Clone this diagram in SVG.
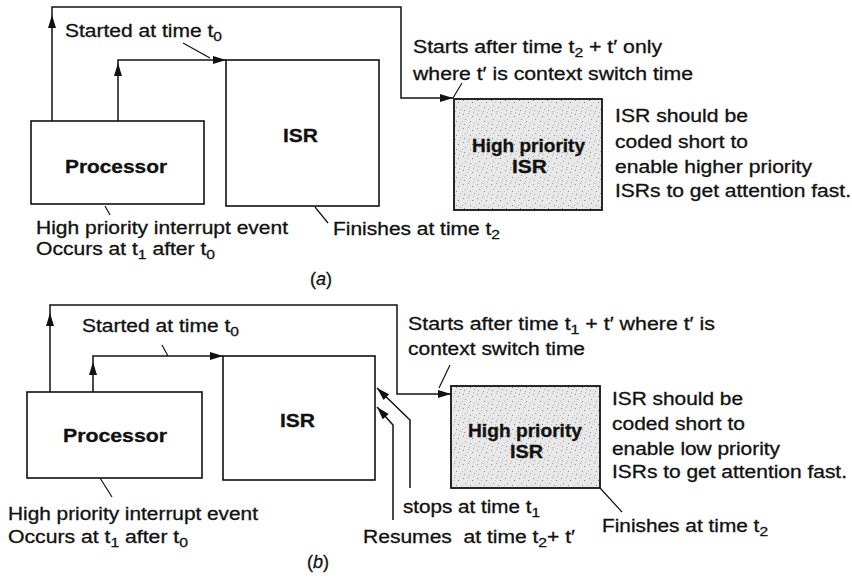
<svg xmlns="http://www.w3.org/2000/svg" xmlns:xlink="http://www.w3.org/1999/xlink" width="852" height="580" viewBox="0 0 852 580">
  <style>
    .box { fill: #ffffff; stroke: #111; stroke-width: 1.6; }
    .hp { fill: url(#stipple); stroke: #111; stroke-width: 1.8; }
    .wire { fill: none; stroke: #111; stroke-width: 1.5; }
    .lead { fill: none; stroke: #111; stroke-width: 1.2; }
    .ah { fill: #111; }
    text { font-family: "Liberation Sans", Arial, sans-serif; font-size: 17.5px; fill: #111; stroke: #111; stroke-width: 0.3; }
    .b { font-weight: bold; }
    .sub { font-size: 13px; }
    .it { font-style: italic; }
    .pre { white-space: pre; }
  </style>
  <defs>
    <!-- arrowhead pointing right, tip at origin -->
    <path id="ah" d="M0,0 L-13,-4 L-13,4 Z"/>
    <!-- grainy grey fill for the high priority ISR boxes -->
    <pattern id="stipple" width="14" height="14" patternUnits="userSpaceOnUse">
      <rect width="14" height="14" fill="#e8e8e8"/>
      <rect x="1" y="2" width="1" height="1" fill="#8a8a8a"/>
      <rect x="6" y="1" width="1" height="1" fill="#a0a0a0"/>
      <rect x="10" y="4" width="1" height="1" fill="#7a7a7a"/>
      <rect x="3" y="7" width="1" height="1" fill="#999"/>
      <rect x="8" y="9" width="1" height="1" fill="#888"/>
      <rect x="12" y="11" width="1" height="1" fill="#aaa"/>
      <rect x="2" y="12" width="1" height="1" fill="#909090"/>
      <rect x="5" y="4" width="1" height="1" fill="#c0c0c0"/>
      <rect x="11" y="0" width="1" height="1" fill="#b0b0b0"/>
      <rect x="7" y="13" width="1" height="1" fill="#a8a8a8"/>
      <rect x="0" y="9" width="1" height="1" fill="#bbb"/>
    </pattern>
  </defs>

  <!-- ===== (a) ===== -->
  <g id="a-processor">
    <rect class="box" x="31" y="121" width="173" height="83"/>
    <text class="b" x="65" y="173" textLength="102" lengthAdjust="spacingAndGlyphs">Processor</text>
  </g>
  <g id="a-isr">
    <rect class="box" x="226" y="60" width="153" height="146"/>
    <text class="b" x="283" y="142" textLength="35" lengthAdjust="spacingAndGlyphs">ISR</text>
  </g>
  <g id="a-hp-isr">
    <rect class="hp" x="454" y="99" width="148" height="111"/>
    <text class="b" x="472" y="152" textLength="113" lengthAdjust="spacingAndGlyphs">High priority</text>
    <text class="b" x="512" y="173" textLength="35" lengthAdjust="spacingAndGlyphs">ISR</text>
  </g>

  <g id="a-connectors">
    <path class="wire" d="M52,121 V7 H401 V98 H453"/>
    <path class="wire" d="M118,121 V60 H226"/>
    <use xlink:href="#ah" class="ah" transform="translate(52,15) rotate(-90)"/>
    <use xlink:href="#ah" class="ah" transform="translate(453,98)"/>
    <use xlink:href="#ah" class="ah" transform="translate(118,63) rotate(-90)"/>
    <use xlink:href="#ah" class="ah" transform="translate(226,60)"/>
    <path class="lead" d="M183,43 L210,58"/>
    <path class="lead" d="M105,206 L110,215"/>
    <path class="lead" d="M315,207 L328,223"/>
    <path class="lead" d="M462,83 L453,98"/>
  </g>

  <g id="a-labels">
    <text x="65" y="37" textLength="157" lengthAdjust="spacingAndGlyphs">Started at time t<tspan class="sub" dy="4">0</tspan></text>
    <text x="36" y="234" textLength="252" lengthAdjust="spacingAndGlyphs">High priority interrupt event</text>
    <text x="36" y="255" textLength="179" lengthAdjust="spacingAndGlyphs">Occurs at t<tspan class="sub" dy="4">1</tspan><tspan dy="-4"> after t</tspan><tspan class="sub" dy="4">0</tspan></text>
    <text x="333" y="235" textLength="167" lengthAdjust="spacingAndGlyphs">Finishes at time t<tspan class="sub" dy="4">2</tspan></text>
    <text x="413" y="53" textLength="249" lengthAdjust="spacingAndGlyphs">Starts after time t<tspan class="sub" dy="4">2</tspan><tspan dy="-4"> + t′ only</tspan></text>
    <text x="413" y="80" textLength="280" lengthAdjust="spacingAndGlyphs">where t′ is context switch time</text>
    <text x="615" y="122" textLength="133" lengthAdjust="spacingAndGlyphs">ISR should be</text>
    <text x="615" y="148" textLength="133" lengthAdjust="spacingAndGlyphs">coded short to</text>
    <text x="615" y="173" textLength="197" lengthAdjust="spacingAndGlyphs">enable higher priority</text>
    <text x="615" y="197" textLength="236" lengthAdjust="spacingAndGlyphs">ISRs to get attention fast.</text>
    <text x="310" y="285" style="font-size:18px">(<tspan class="it">a</tspan>)</text>
  </g>

  <!-- ===== (b) ===== -->
  <g id="b-processor">
    <rect class="box" x="27" y="392" width="175" height="86"/>
    <text class="b" x="63" y="442" textLength="104" lengthAdjust="spacingAndGlyphs">Processor</text>
  </g>
  <g id="b-isr">
    <rect class="box" x="223" y="356" width="152" height="124"/>
    <text class="b" x="280" y="427" textLength="35" lengthAdjust="spacingAndGlyphs">ISR</text>
  </g>
  <g id="b-hp-isr">
    <rect class="hp" x="451" y="386" width="149" height="102"/>
    <text class="b" x="468" y="437" textLength="114" lengthAdjust="spacingAndGlyphs">High priority</text>
    <text class="b" x="510" y="458" textLength="33" lengthAdjust="spacingAndGlyphs">ISR</text>
  </g>

  <g id="b-connectors">
    <path class="wire" d="M50,392 V305 H397 V394 H451"/>
    <path class="wire" d="M93,392 V356 H223"/>
    <path class="wire" d="M410,488 V420 L377,388"/>
    <path class="wire" d="M393,520 V425 L377,407"/>
    <use xlink:href="#ah" class="ah" transform="translate(50,313) rotate(-90)"/>
    <use xlink:href="#ah" class="ah" transform="translate(451,394)"/>
    <use xlink:href="#ah" class="ah" transform="translate(93,362) rotate(-90)"/>
    <use xlink:href="#ah" class="ah" transform="translate(223,356)"/>
    <use xlink:href="#ah" class="ah" transform="translate(377,388) rotate(224)"/>
    <use xlink:href="#ah" class="ah" transform="translate(377,407) rotate(228)"/>
    <path class="lead" d="M162,345 L168,356"/>
    <path class="lead" d="M100,478 L112,497"/>
    <path class="lead" d="M450,365 L439,388"/>
    <path class="lead" d="M600,488 L622,512"/>
  </g>

  <g id="b-labels">
    <text x="82" y="332" textLength="157" lengthAdjust="spacingAndGlyphs">Started at time t<tspan class="sub" dy="4">0</tspan></text>
    <text x="8" y="520" textLength="250" lengthAdjust="spacingAndGlyphs">High priority interrupt event</text>
    <text x="8" y="543" textLength="180" lengthAdjust="spacingAndGlyphs">Occurs at t<tspan class="sub" dy="4">1</tspan><tspan dy="-4"> after t</tspan><tspan class="sub" dy="4">0</tspan></text>
    <text x="408" y="330" textLength="307" lengthAdjust="spacingAndGlyphs">Starts after time t<tspan class="sub" dy="4">1</tspan><tspan dy="-4"> + t′ where t′ is</tspan></text>
    <text x="408" y="355" textLength="177" lengthAdjust="spacingAndGlyphs">context switch time</text>
    <text x="612" y="405" textLength="131" lengthAdjust="spacingAndGlyphs">ISR should be</text>
    <text x="612" y="430" textLength="133" lengthAdjust="spacingAndGlyphs">coded short to</text>
    <text x="612" y="455" textLength="168" lengthAdjust="spacingAndGlyphs">enable low priority</text>
    <text x="612" y="478" textLength="235" lengthAdjust="spacingAndGlyphs">ISRs to get attention fast.</text>
    <text x="403" y="513" textLength="137" lengthAdjust="spacingAndGlyphs">stops at time t<tspan class="sub" dy="4">1</tspan></text>
    <text class="pre" x="363" y="543" textLength="212" lengthAdjust="spacingAndGlyphs">Resumes  at time t<tspan class="sub" dy="4">2</tspan><tspan dy="-4">+ t′</tspan></text>
    <text x="602" y="532" textLength="166" lengthAdjust="spacingAndGlyphs">Finishes at time t<tspan class="sub" dy="4">2</tspan></text>
    <text x="307" y="568" style="font-size:18px">(<tspan class="it">b</tspan>)</text>
  </g>
</svg>
